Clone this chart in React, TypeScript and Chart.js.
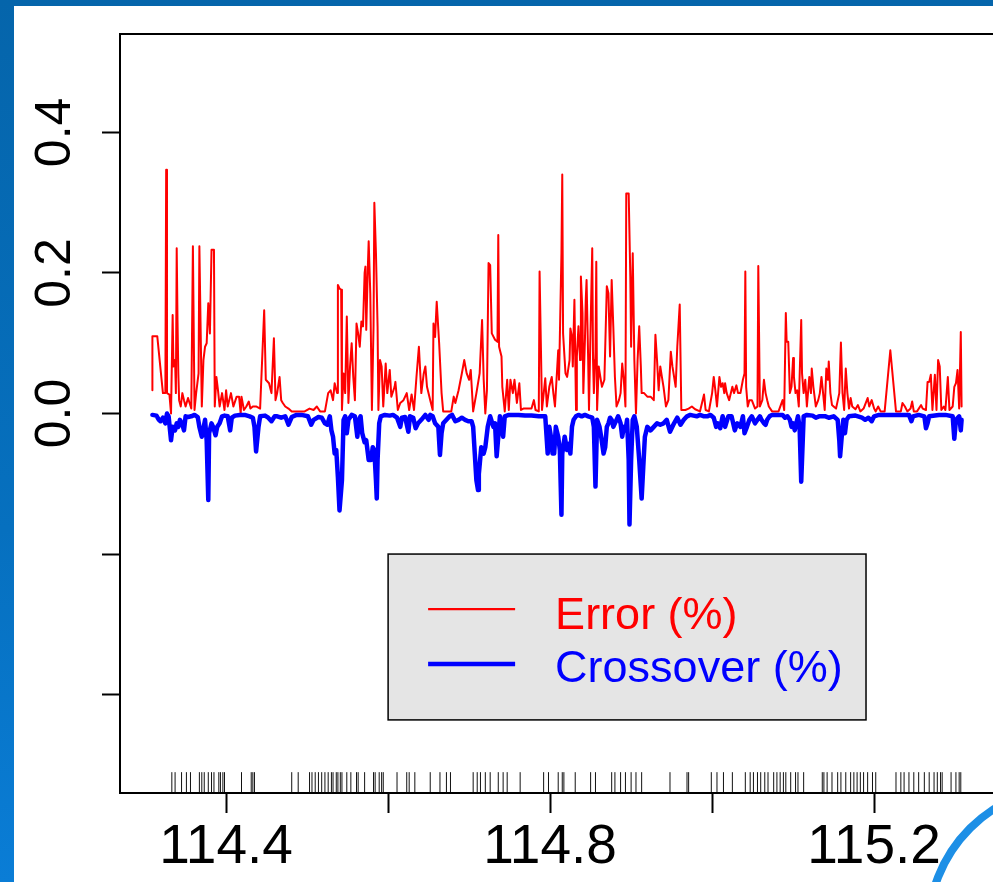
import React, { useEffect, useRef } from "react";
import { Chart, registerables } from "chart.js";

Chart.register(...registerables);

// ---- axis ticks ----
const xTickValues = [114.4, 114.6, 114.8, 115.0, 115.2];
const xTickLabels = ["114.4", "", "114.8", "", "115.2"];
const yTickValues = [-0.4, -0.2, 0.0, 0.2, 0.4];
const yTickLabels = ["", "", "0.0", "0.2", "0.4"];
const xRange = [114.269, 115.348];
const yRange = [-0.54, 0.54];

// ---- series names ----
const seriesNames = ["Error (%)", "Crossover (%)"];

// ---- Error (%) series ----
const errorX = [
  114.309, 114.309, 114.315, 114.322, 114.325, 114.326, 114.327, 114.33, 114.332, 114.334,
  114.335, 114.337, 114.338, 114.339, 114.34, 114.341, 114.342, 114.344, 114.346, 114.348,
  114.35, 114.353, 114.357, 114.359, 114.361, 114.363, 114.366, 114.367, 114.37, 114.372,
  114.374, 114.376, 114.378, 114.38, 114.382, 114.385, 114.386, 114.388, 114.39, 114.392,
  114.395, 114.398, 114.4, 114.402, 114.406, 114.409, 114.413, 114.416, 114.418, 114.419,
  114.422, 114.425, 114.428, 114.43, 114.433, 114.437, 114.442, 114.447, 114.449, 114.453,
  114.456, 114.459, 114.461, 114.463, 114.466, 114.468, 114.47, 114.473, 114.477, 114.481,
  114.489, 114.497, 114.503, 114.508, 114.512, 114.516, 114.522, 114.526, 114.529, 114.532,
  114.534, 114.537, 114.538, 114.54, 114.542, 114.543, 114.545, 114.547, 114.549, 114.551,
  114.553,
  114.555, 114.557, 114.559, 114.561, 114.563, 114.565, 114.567, 114.569, 114.571, 114.572,
  114.573, 114.575, 114.576, 114.578, 114.58, 114.582, 114.583, 114.585, 114.587, 114.588,
  114.59, 114.592, 114.594, 114.597, 114.599, 114.602, 114.604, 114.608, 114.609, 114.612,
  114.615, 114.619, 114.623, 114.626, 114.629, 114.632, 114.635, 114.638, 114.641, 114.644,
  114.646, 114.648, 114.652, 114.655, 114.656, 114.658, 114.66, 114.663, 114.666, 114.668,
  114.672, 114.678, 114.681, 114.683, 114.687, 114.691, 114.694, 114.697, 114.7, 114.702,
  114.705, 114.709, 114.713, 114.716, 114.718, 114.72, 114.722, 114.724, 114.726, 114.728,
  114.732, 114.735, 114.736, 114.737, 114.74, 114.741, 114.744, 114.747, 114.749, 114.751,
  114.754, 114.756, 114.759, 114.762, 114.764, 114.767, 114.773, 114.777, 114.78, 114.782,
  114.786, 114.787, 114.79,
  114.794, 114.796, 114.799, 114.802, 114.804, 114.806, 114.81, 114.811, 114.814, 114.815,
  114.816, 114.818, 114.819, 114.821, 114.824, 114.825, 114.827, 114.828, 114.83, 114.832,
  114.833, 114.835, 114.837, 114.838, 114.84, 114.841, 114.843, 114.844, 114.845, 114.847,
  114.848, 114.85, 114.852, 114.853, 114.854, 114.856, 114.857, 114.858, 114.86, 114.862,
  114.864, 114.867, 114.87, 114.872, 114.874, 114.876, 114.878, 114.88, 114.882, 114.885,
  114.887, 114.889, 114.891, 114.893, 114.894, 114.897, 114.899, 114.9, 114.902, 114.904,
  114.906, 114.908, 114.91, 114.912, 114.913, 114.916, 114.92, 114.924, 114.928, 114.93,
  114.932, 114.934, 114.936, 114.938, 114.94, 114.943, 114.946, 114.949, 114.951, 114.955,
  114.957, 114.96, 114.962, 114.967, 114.971, 114.975, 114.979, 114.985, 114.99, 114.992,
  114.996, 115.0, 115.002, 115.004, 115.006, 115.009, 115.011, 115.013, 115.015, 115.016,
  115.018, 115.021, 115.025, 115.027, 115.03, 115.032, 115.035, 115.038, 115.04, 115.041,
  115.042, 115.044, 115.046, 115.049,
  115.053, 115.056, 115.057, 115.059, 115.062, 115.064, 115.066, 115.068, 115.07, 115.074,
  115.078, 115.082, 115.087, 115.089, 115.091, 115.092, 115.094, 115.096, 115.098, 115.1,
  115.101, 115.103, 115.105, 115.107, 115.11, 115.111, 115.113, 115.115, 115.117, 115.12,
  115.122, 115.123, 115.125, 115.128, 115.131, 115.133, 115.135, 115.137, 115.139, 115.141,
  115.143, 115.144, 115.146, 115.148, 115.15, 115.153, 115.157, 115.159, 115.161, 115.163,
  115.165, 115.167, 115.169, 115.171, 115.173, 115.177, 115.18, 115.183, 115.187, 115.192,
  115.194, 115.197, 115.2, 115.202, 115.205, 115.208, 115.213, 115.22, 115.227, 115.233,
  115.235, 115.238, 115.241, 115.245, 115.247, 115.249, 115.253, 115.258, 115.26, 115.264,
  115.266, 115.268, 115.27, 115.272, 115.275, 115.277, 115.279, 115.281, 115.283, 115.286,
  115.288, 115.291, 115.293, 115.297, 115.299, 115.301, 115.303, 115.305, 115.307, 115.308,
];
const errorY = [
  0.033, 0.11, 0.11, 0.029, 0.029, 0.347, 0.029, 0.027, 0.0, 0.14,
  0.067, 0.076, 0.029, 0.235, 0.133, 0.057, 0.019, 0.01, 0.029, 0.019,
  0.01, 0.022, 0.007, 0.238, 0.005, 0.029, 0.057, 0.238, 0.01, 0.076,
  0.095, 0.1, 0.157, 0.114, 0.233, 0.233, 0.01, 0.052, 0.033, 0.01,
  0.029, 0.005, 0.033, 0.01, 0.029, 0.01, 0.024, 0.024, 0.0, 0.024,
  0.005, 0.01, 0.017, 0.007, 0.01, 0.01, 0.007, 0.147, 0.048, 0.043,
  0.029, 0.107, 0.019, 0.029, 0.052, 0.019, 0.015, 0.01, 0.007, 0.003,
  0.003, 0.003, 0.007, 0.005, 0.01, 0.003, 0.003, 0.029, 0.033, 0.019,
  0.043, 0.029, 0.183, 0.178, 0.176, 0.005, 0.057, 0.029, 0.138, 0.015,
  0.067,
  0.1, 0.052, 0.019, 0.128, 0.114, 0.095, 0.131, 0.124, 0.2, 0.209,
  0.119, 0.209, 0.245, 0.171, 0.005, 0.124, 0.3, 0.228, 0.124, 0.005,
  0.076, 0.067, 0.01, 0.071, 0.029, 0.062, 0.024, 0.038, 0.045, 0.005,
  0.015, 0.019, 0.029, 0.005, 0.027, 0.005, 0.052, 0.095, 0.029, 0.057,
  0.067, 0.038, 0.019, 0.005, 0.128, 0.109, 0.159, 0.1, 0.029, 0.003,
  0.003, 0.003, 0.024, 0.015, 0.033, 0.057, 0.076, 0.057, 0.048, 0.062,
  0.003, 0.029, 0.057, 0.133, 0.048, 0.0, 0.033, 0.214, 0.211, 0.114,
  0.105, 0.102, 0.254, 0.095, 0.081, 0.038, 0.003, 0.048, 0.005, 0.048,
  0.029, 0.048, 0.015, 0.043, 0.005, 0.007, 0.007, 0.007, 0.019, 0.005,
  0.003, 0.202, 0.005,
  0.05, 0.01, 0.038, 0.052, 0.029, 0.01, 0.09, 0.048, 0.228, 0.34,
  0.114, 0.076, 0.057, 0.052, 0.076, 0.121, 0.109, 0.067, 0.162, 0.005,
  0.081, 0.124, 0.076, 0.195, 0.143, 0.029, 0.105, 0.162, 0.19, 0.076,
  0.005, 0.124, 0.235, 0.076, 0.029, 0.086, 0.216, 0.005, 0.067, 0.052,
  0.038, 0.048, 0.181, 0.171, 0.081, 0.19, 0.124, 0.052, 0.01, 0.019,
  0.029, 0.071, 0.048, 0.01, 0.313, 0.313, 0.195, 0.095, 0.228, 0.076,
  0.0, 0.076, 0.124, 0.067, 0.029, 0.029, 0.024, 0.024, 0.019, 0.112,
  0.076, 0.033, 0.067, 0.052, 0.038, 0.01, 0.019, 0.088, 0.067, 0.038,
  0.095, 0.155, 0.005, 0.005, 0.007, 0.01, 0.006, 0.003, 0.027, 0.005,
  0.003, 0.029, 0.052, 0.033, 0.01, 0.052, 0.038, 0.043, 0.029, 0.043,
  0.029, 0.019, 0.038, 0.029, 0.04, 0.029, 0.029, 0.048, 0.057, 0.202,
  0.038, 0.01, 0.019, 0.019,
  0.007, 0.01, 0.21, 0.01, 0.019, 0.048, 0.029, 0.019, 0.01, 0.003,
  0.003, 0.003, 0.019, 0.005, 0.143, 0.102, 0.102, 0.029, 0.038, 0.079,
  0.052, 0.029, 0.033, 0.01, 0.133, 0.057, 0.029, 0.048, 0.01, 0.052,
  0.029, 0.064, 0.038, 0.01, 0.019, 0.029, 0.052, 0.029, 0.005, 0.064,
  0.048, 0.074, 0.029, 0.012, 0.01, 0.007, 0.029, 0.101, 0.029, 0.005,
  0.064, 0.029, 0.007, 0.022, 0.01, 0.006, 0.012, 0.003, 0.007, 0.022,
  0.01, 0.019, 0.007, 0.003, 0.01, 0.003, 0.003, 0.09, 0.003, 0.003,
  0.015, 0.01, 0.003, 0.007, 0.017, 0.003, 0.003, 0.012, 0.007, 0.005,
  0.045, 0.045, 0.055, 0.005, 0.055, 0.005, 0.076, 0.067, 0.005, 0.01,
  0.005, 0.052, 0.005, 0.01, 0.038, 0.043, 0.062, 0.007, 0.116, 0.01,
];

// ---- Crossover (%) series (plotted downward) ----
const crossX = [
  114.309, 114.314, 114.317, 114.319, 114.322, 114.325, 114.327, 114.329, 114.332, 114.334,
  114.337, 114.339, 114.341, 114.343, 114.346, 114.348, 114.35, 114.353, 114.357, 114.361,
  114.365, 114.367, 114.37, 114.374, 114.376, 114.378, 114.379, 114.382, 114.384, 114.387,
  114.389, 114.392, 114.395, 114.398, 114.402, 114.405, 114.407, 114.411, 114.417, 114.423,
  114.429, 114.433, 114.435, 114.437, 114.44, 114.442, 114.448, 114.452, 114.456, 114.46,
  114.463, 114.468, 114.473, 114.477, 114.481, 114.487, 114.493, 114.501, 114.505, 114.508,
  114.514, 114.518, 114.522, 114.525, 114.528, 114.53, 114.532, 114.534, 114.536, 114.538,
  114.54, 114.543, 114.545, 114.547, 114.549, 114.551, 114.555,
  114.559, 114.562, 114.564, 114.566, 114.568, 114.571, 114.573, 114.576, 114.579, 114.581,
  114.583, 114.585, 114.586, 114.587, 114.589, 114.591, 114.596, 114.602, 114.606, 114.611,
  114.615, 114.617, 114.621, 114.625, 114.627, 114.631, 114.634, 114.637, 114.641, 114.646,
  114.65, 114.652, 114.655, 114.658, 114.662, 114.664, 114.666, 114.668, 114.672, 114.676,
  114.679, 114.683, 114.687, 114.691, 114.695, 114.699, 114.703, 114.705, 114.707, 114.709,
  114.711, 114.712, 114.715, 114.718, 114.72, 114.723, 114.726, 114.73, 114.732, 114.734,
  114.736, 114.738, 114.74, 114.742, 114.744, 114.749, 114.753, 114.761, 114.769, 114.777,
  114.786,
  114.794, 114.797, 114.799, 114.801, 114.803, 114.805, 114.807, 114.81, 114.812, 114.814,
  114.815, 114.818, 114.821, 114.823, 114.825, 114.827, 114.829, 114.832, 114.835, 114.839,
  114.843, 114.847, 114.852, 114.854, 114.856, 114.858, 114.861, 114.863, 114.866, 114.868,
  114.87, 114.872, 114.874, 114.876, 114.878, 114.88, 114.884, 114.887, 114.889, 114.891,
  114.893, 114.895, 114.897, 114.898, 114.9, 114.902, 114.904, 114.907, 114.91, 114.913,
  114.915, 114.917, 114.92, 114.924, 114.928, 114.932, 114.936, 114.94, 114.944, 114.948,
  114.953, 114.957, 114.961, 114.965, 114.969, 114.973, 114.977, 114.981, 114.985, 114.99,
  114.994, 114.998, 115.002, 115.005, 115.007, 115.01, 115.013, 115.016, 115.02, 115.024,
  115.028, 115.031, 115.035, 115.038, 115.04,
  115.043, 115.046, 115.049, 115.053, 115.056, 115.059, 115.061, 115.064, 115.066, 115.068,
  115.071, 115.074, 115.08, 115.087, 115.09, 115.093, 115.096, 115.098, 115.1, 115.102,
  115.104, 115.106, 115.108, 115.11, 115.111, 115.113, 115.117, 115.124, 115.128, 115.132,
  115.14, 115.144, 115.15, 115.155, 115.157, 115.158, 115.16, 115.162, 115.164, 115.166,
  115.169, 115.177, 115.185, 115.189, 115.193, 115.197, 115.2, 115.206, 115.218, 115.231,
  115.243, 115.246, 115.248, 115.255, 115.262, 115.264, 115.266, 115.268, 115.28, 115.288,
  115.297, 115.299, 115.301, 115.305, 115.307, 115.308,
];
const crossY = [
  -0.002, -0.003, -0.009, -0.011, -0.006, -0.014, 0.0, -0.004, -0.038, -0.019,
  -0.024, -0.014, -0.019, -0.009, -0.016, -0.024, -0.004, -0.005, -0.004, -0.002,
  -0.005, -0.019, -0.033, -0.009, -0.038, -0.123, -0.028, -0.014, -0.019, -0.031,
  -0.019, -0.014, -0.004, -0.003, -0.004, -0.024, -0.006, -0.003, -0.002, -0.002,
  -0.004, -0.006, -0.019, -0.054, -0.019, -0.004, -0.003, -0.006, -0.011, -0.004,
  -0.004, -0.006, -0.004, -0.016, -0.005, -0.002, -0.002, -0.004, -0.016, -0.009,
  -0.005, -0.006, -0.014, -0.016, -0.004, -0.024, -0.033, -0.057, -0.052, -0.09,
  -0.138, -0.095, -0.009, -0.004, -0.028, -0.009, -0.002,
  -0.004, -0.033, -0.009, -0.004, -0.028, -0.041, -0.038, -0.066, -0.066, -0.048,
  -0.052, -0.095, -0.121, -0.066, -0.014, -0.004, -0.002, -0.003, -0.002, -0.006,
  -0.019, -0.006, -0.005, -0.026, -0.004, -0.006, -0.021, -0.014, -0.009, -0.002,
  -0.009, -0.002, -0.004, -0.014, -0.019, -0.059, -0.028, -0.014, -0.009, -0.004,
  -0.002, -0.011, -0.009, -0.006, -0.009, -0.011, -0.011, -0.019, -0.057, -0.095,
  -0.109, -0.086, -0.048, -0.057, -0.048, -0.019, -0.004, -0.019, -0.014, -0.061,
  -0.033, -0.004, -0.019, -0.033, -0.004, -0.002, -0.002, -0.002, -0.003, -0.003,
  -0.004,
  -0.004, -0.057, -0.019, -0.033, -0.057, -0.057, -0.019, -0.033, -0.052, -0.144,
  -0.057, -0.033, -0.052, -0.043, -0.057, -0.019, -0.009, -0.004, -0.002, -0.004,
  -0.002, -0.004, -0.006, -0.019, -0.104, -0.009, -0.019, -0.033, -0.057, -0.048,
  -0.019, -0.014, -0.006, -0.009, -0.019, -0.014, -0.004, -0.014, -0.033, -0.019,
  -0.024, -0.009, -0.066, -0.158, -0.066, -0.009, -0.004, -0.019, -0.066, -0.121,
  -0.076, -0.033, -0.019, -0.024, -0.019, -0.014, -0.016, -0.014, -0.009, -0.026,
  -0.014, -0.006, -0.016, -0.009, -0.004, -0.002, -0.003, -0.004, -0.002, -0.004,
  -0.004, -0.002, -0.006, -0.019, -0.014, -0.021, -0.004, -0.019, -0.004, -0.004,
  -0.024, -0.014, -0.019, -0.004, -0.028,
  -0.019, -0.009, -0.004, -0.014, -0.009, -0.004, -0.009, -0.014, -0.016, -0.009,
  -0.004, -0.002, -0.002, -0.002, -0.006, -0.004, -0.009, -0.019, -0.014, -0.024,
  -0.014, -0.004, -0.019, -0.097, -0.066, -0.004, -0.002, -0.003, -0.006, -0.004,
  -0.004, -0.006, -0.004, -0.009, -0.038, -0.061, -0.033, -0.009, -0.028, -0.009,
  -0.004, -0.003, -0.006, -0.009, -0.006, -0.011, -0.004, -0.002, -0.002, -0.002,
  -0.002, -0.011, -0.004, -0.002, -0.004, -0.021, -0.014, -0.004, -0.002, -0.002,
  -0.004, -0.036, -0.009, -0.004, -0.024, -0.009,
];

// ---- rug (marker positions along the bottom) ----
const rugX = [
  114.333, 114.337, 114.345, 114.351, 114.356, 114.367, 114.37, 114.373, 114.378, 114.382,
  114.385, 114.391, 114.393, 114.396, 114.398, 114.419, 114.431, 114.433, 114.435, 114.481,
  114.489, 114.503, 114.506, 114.51, 114.514, 114.518, 114.522, 114.526, 114.53, 114.532,
  114.536, 114.538, 114.541, 114.543, 114.549, 114.554, 114.561, 114.563, 114.571, 114.582,
  114.584, 114.589, 114.592, 114.594, 114.611, 114.623, 114.626, 114.633, 114.652, 114.664,
  114.672, 114.677, 114.705, 114.71, 114.714, 114.72, 114.726, 114.736, 114.742, 114.747,
  114.763, 114.792, 114.798, 114.81, 114.815, 114.817, 114.831, 114.85, 114.856, 114.876,
  114.88, 114.887, 114.893, 114.9, 114.906, 114.913, 114.948, 114.969, 114.971, 114.999,
  115.006, 115.014, 115.025, 115.041, 115.047, 115.051, 115.056, 115.06, 115.065, 115.069,
  115.076, 115.08, 115.084, 115.088, 115.091, 115.097, 115.103, 115.106, 115.113, 115.136,
  115.138, 115.142, 115.148, 115.155, 115.159, 115.165, 115.171, 115.175, 115.179, 115.183,
  115.187, 115.192, 115.198, 115.202, 115.227, 115.233, 115.237, 115.243, 115.249, 115.255,
  115.262, 115.268, 115.274, 115.278, 115.282, 115.284, 115.295, 115.301, 115.305, 115.307,
];
const rugLevel = -0.526;

const FONT = '"Liberation Sans", Arial, Helvetica, sans-serif';

const framePlugin = {
  id: "frameAndLegend",
  afterDatasetsDraw(chart: any) {
    const { ctx, chartArea: a, scales } = chart;
    const xs = scales.x;
    const ys = scales.y;
    ctx.save();
    // full box around plot region
    ctx.strokeStyle = "#000";
    ctx.lineWidth = 2;
    ctx.strokeRect(a.left, a.top, a.right - a.left, a.bottom - a.top);

    // legend box
    const L = xs.getPixelForValue(114.6);
    const R = xs.getPixelForValue(115.19);
    const T = ys.getPixelForValue(-0.2);
    const B = ys.getPixelForValue(-0.436);
    ctx.fillStyle = "#e5e5e5";
    ctx.fillRect(L, T, R - L, B - T);
    ctx.lineWidth = 1.5;
    ctx.strokeStyle = "#000";
    ctx.strokeRect(L, T, R - L, B - T);

    const colors = ["#ff0000", "#0000ff"];
    const widths = [2.2, 4.5];
    const lineY = [T + 55, T + 110];
    const baseY = [T + 75, T + 128];
    ctx.font = `45px ${FONT}`;
    ctx.textBaseline = "alphabetic";
    ctx.textAlign = "left";
    seriesNames.forEach((name, i) => {
      ctx.strokeStyle = colors[i];
      ctx.lineWidth = widths[i];
      ctx.beginPath();
      ctx.moveTo(L + 40, lineY[i]);
      ctx.lineTo(L + 127, lineY[i]);
      ctx.stroke();
      ctx.fillStyle = colors[i];
      ctx.fillText(name, L + 167, baseY[i]);
    });
    ctx.restore();
  },
};

export default function App() {
  const canvasRef = useRef<HTMLCanvasElement | null>(null);

  useEffect(() => {
    const canvas = canvasRef.current;
    if (!canvas) return;
    const chart = new Chart(canvas, {
      type: "line",
      data: {
        datasets: [
          {
            label: seriesNames[1],
            data: crossX.map((x, i) => ({ x, y: crossY[i] })),
            borderColor: "#0000ff",
            borderWidth: 4.5,
            pointRadius: 0,
            tension: 0,
            borderJoinStyle: "round",
            borderCapStyle: "round",
            fill: false,
          },
          {
            label: seriesNames[0],
            data: errorX.map((x, i) => ({ x, y: errorY[i] })),
            borderColor: "#ff0000",
            borderWidth: 2,
            pointRadius: 0,
            tension: 0,
            borderJoinStyle: "round",
            borderCapStyle: "round",
            fill: false,
          },
          {
            type: "scatter",
            label: "rug",
            data: rugX.map((x) => ({ x, y: rugLevel })),
            pointStyle: "line",
            rotation: 90,
            radius: 11,
            borderColor: "#111111",
            borderWidth: 1,
            showLine: false,
          } as any,
        ],
      },
      options: {
        animation: false,
        responsive: false,
        devicePixelRatio: 1,
        events: [],
        layout: { autoPadding: false, padding: { left: 0, top: 34, right: 2, bottom: 0 } },
        plugins: { legend: { display: false }, tooltip: { enabled: false } },
        scales: {
          x: {
            type: "linear",
            min: xRange[0],
            max: xRange[1],
            afterBuildTicks: (s: any) => {
              s.ticks = xTickValues.map((v) => ({ value: v }));
            },
            afterFit: (s: any) => {
              s.height = 89;
              s.paddingLeft = 0;
              s.paddingRight = 0;
              s.paddingTop = 0;
              s.paddingBottom = 0;
            },
            grid: {
              drawOnChartArea: false,
              drawTicks: true,
              tickLength: 20,
              tickWidth: 2,
              tickColor: "#000",
            },
            border: { display: true, color: "#000", width: 2 },
            ticks: {
              autoSkip: false,
              minRotation: 0,
              maxRotation: 0,
              padding: 2,
              color: "#000",
              font: { size: 55, family: FONT },
              callback: (_v: any, i: number) => xTickLabels[i],
            },
          },
          y: {
            type: "linear",
            min: yRange[0],
            max: yRange[1],
            afterBuildTicks: (s: any) => {
              s.ticks = yTickValues.map((v) => ({ value: v }));
            },
            afterFit: (s: any) => {
              s.width = 120;
              s.paddingLeft = 0;
              s.paddingRight = 0;
              s.paddingTop = 0;
              s.paddingBottom = 0;
            },
            grid: {
              drawOnChartArea: false,
              drawTicks: true,
              tickLength: 18,
              tickWidth: 2,
              tickColor: "#000",
            },
            border: { display: true, color: "#000", width: 2 },
            ticks: {
              autoSkip: false,
              minRotation: 90,
              maxRotation: 90,
              crossAlign: "center",
              padding: 11,
              color: "#000",
              font: { size: 50, family: FONT },
              callback: (_v: any, i: number) => yTickLabels[i],
            },
          },
        },
      } as any,
      plugins: [framePlugin],
    });
    return () => chart.destroy();
  }, []);

  return (
    <div
      style={{
        position: "fixed",
        left: 0,
        top: 0,
        width: "100vw",
        height: "100vh",
        overflow: "hidden",
        background: "linear-gradient(to bottom, #0565ab 0%, #0670bf 60%, #0a7dd6 100%)",
      }}
    >
      <div
        style={{
          position: "absolute",
          left: 14,
          top: 6,
          right: 0,
          bottom: 0,
          background: "#ffffff",
        }}
      />
      <canvas
        ref={canvasRef}
        width={996}
        height={882}
        style={{ position: "absolute", left: 0, top: 0, display: "block" }}
      />
      <div
        style={{
          position: "absolute",
          left: 1072 - 148,
          top: 930 - 148,
          width: 296,
          height: 296,
          boxSizing: "border-box",
          border: "8px solid #1d8fe6",
          borderRadius: "50%",
        }}
      />
    </div>
  );
}
